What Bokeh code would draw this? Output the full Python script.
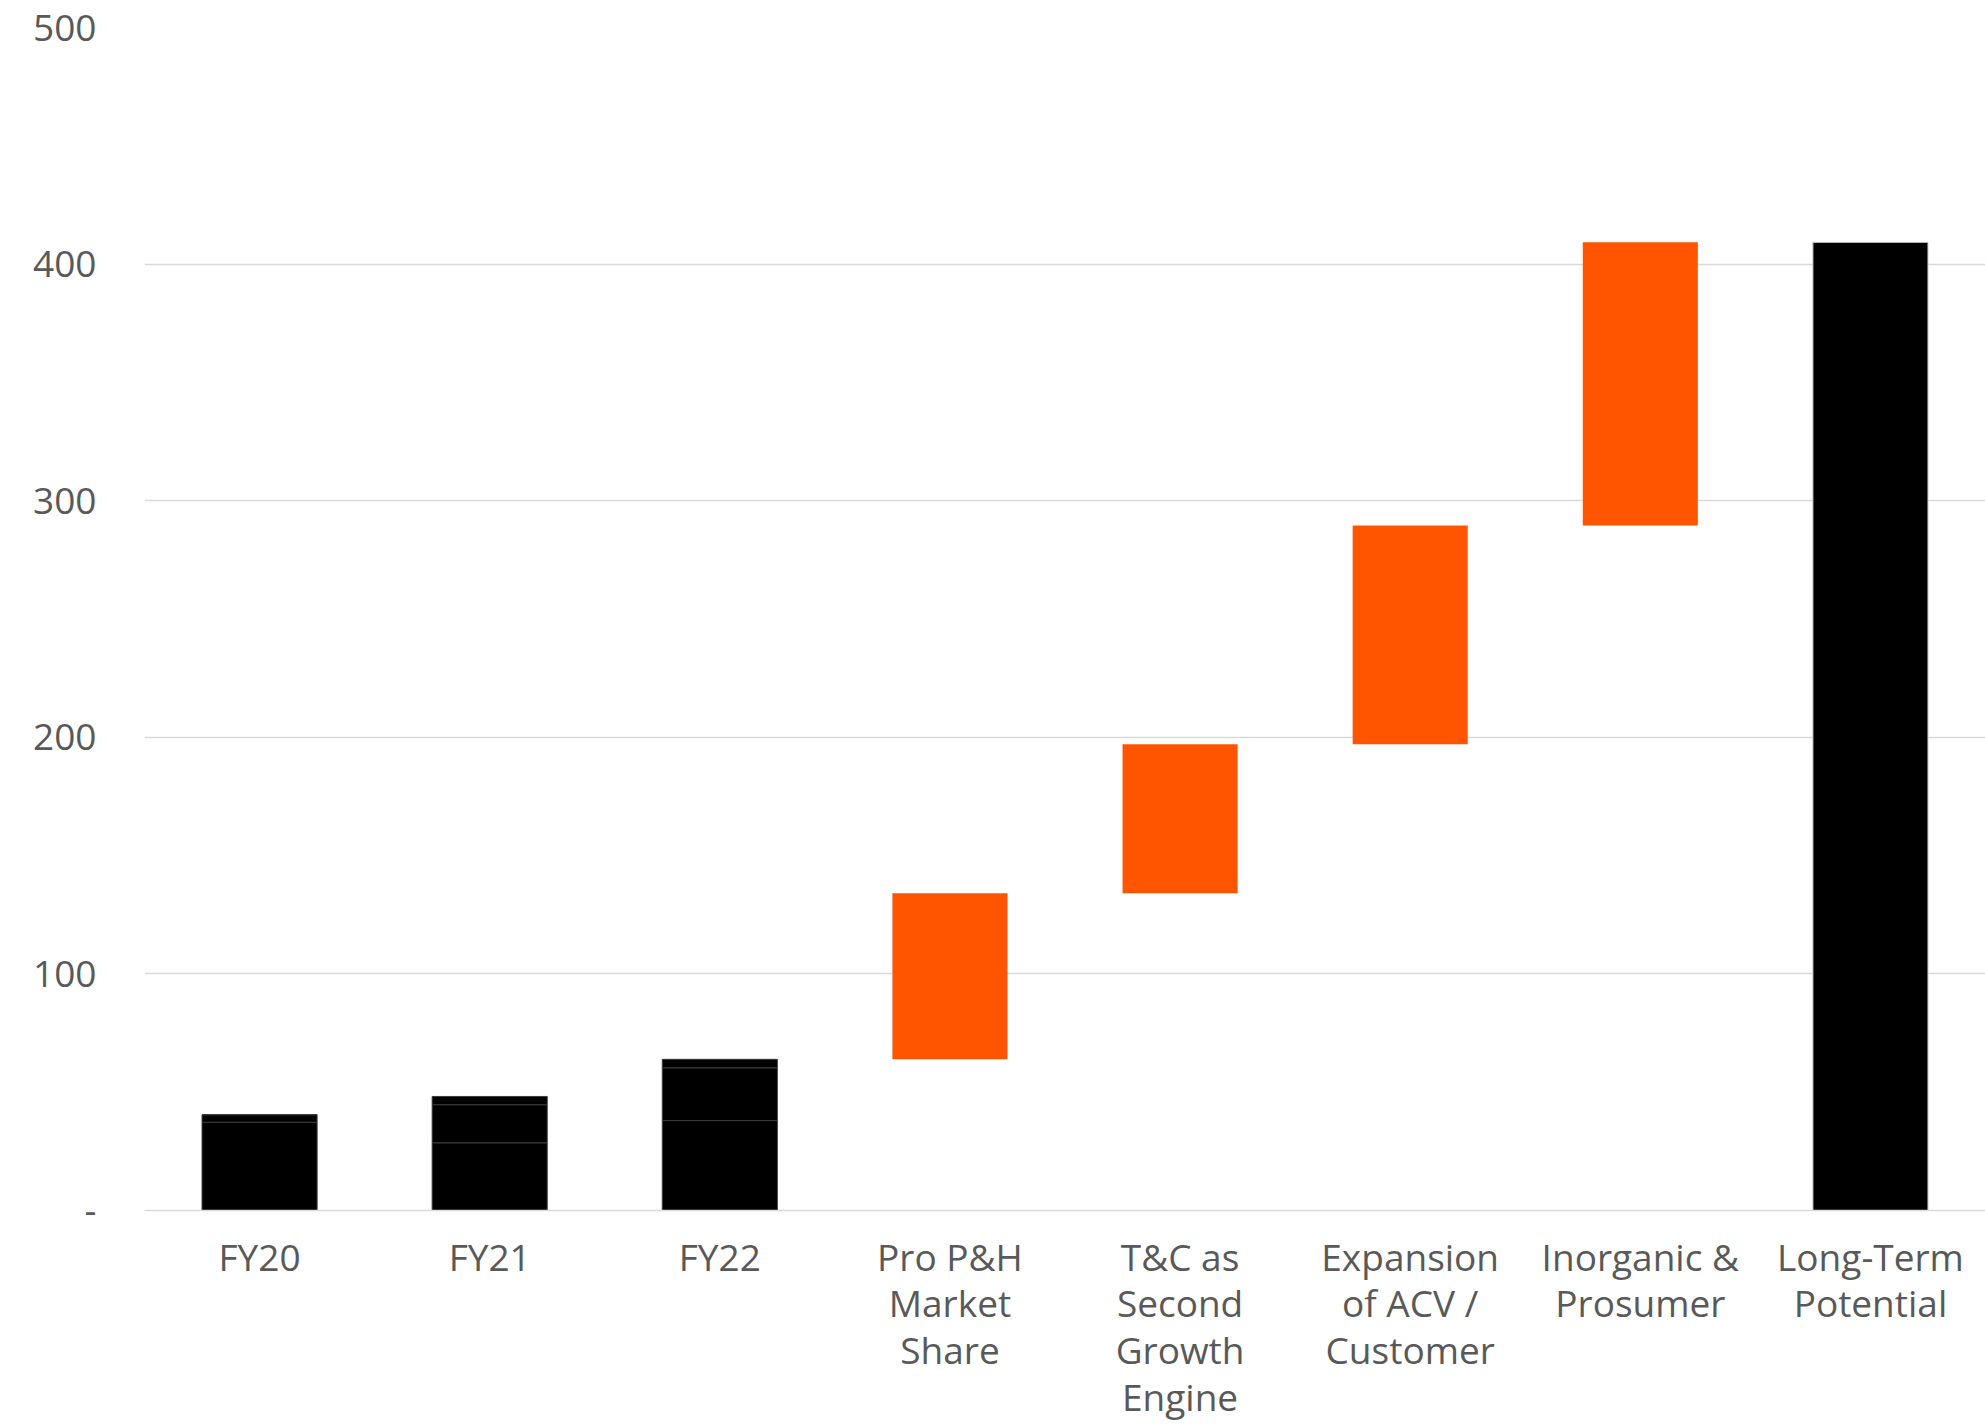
from bokeh.plotting import figure
from bokeh.models import Range1d, FactorRange, FixedTicker
from bokeh.embed import file_html
from bokeh.resources import INLINE

# ---- data ----
categories = [
    "FY20", "FY21", "FY22",
    "Pro P&H\nMarket\nShare",
    "T&C as\nSecond\nGrowth\nEngine",
    "Expansion\nof ACV /\nCustomer",
    "Inorganic &\nProsumer",
    "Long-Term\nPotential",
]
fy_categories = categories[:3]
seg_bottom = [37.3, 28.6, 38.0]
seg_middle = [3.2, 16.1, 22.3]
seg_top = [0.0, 3.5, 3.6]

step_categories = categories[3:7]
step_values = [70.2, 63.0, 92.4, 119.7]

total_category = categories[7]
y_ticks = [0, 100, 200, 300, 400, 500]
y_tick_labels = {0: "-", 100: "100", 200: "200", 300: "300", 400: "400", 500: "500"}

ORANGE = "#FF5500"
FONT = "Open Sans"

# ---- derived ----
b1 = [0.0] * 3
t1 = seg_bottom
t2 = [a + b for a, b in zip(t1, seg_middle)]
t3 = [a + b for a, b in zip(t2, seg_top)]

start = t3[-1]
step_bottoms, step_tops = [], []
cur = start
for v in step_values:
    step_bottoms.append(cur)
    cur += v
    step_tops.append(cur)
total_value = cur

p = figure(
    width=1985, height=1425,
    x_range=FactorRange(*categories, range_padding=0),
    y_range=Range1d(0, 500),
    output_backend="svg", toolbar_location=None,
    min_border_left=144, min_border_right=0, min_border_top=27, min_border_bottom=200,
)
p.outline_line_color = None
p.background_fill_color = "white"

W = 0.5
seg_line = "#3a3a3a"
p.vbar(x=fy_categories, bottom=b1, top=t1, width=W, fill_color="black", line_color=seg_line, line_width=1)
p.vbar(x=fy_categories, bottom=t1, top=t2, width=W, fill_color="black", line_color=seg_line, line_width=1)
p.vbar(x=fy_categories, bottom=t2, top=t3, width=W, fill_color="black", line_color=seg_line, line_width=1)

p.vbar(x=step_categories, bottom=step_bottoms, top=step_tops, width=W, fill_color=ORANGE, line_color=None)
p.vbar(x=[total_category], bottom=[0], top=[total_value], width=W, fill_color="black", line_color="#cccccc", line_width=1)

# grid
p.xgrid.grid_line_color = None
p.ygrid.grid_line_color = "#d9d9d9"
p.ygrid.grid_line_width = 1.5
p.ygrid.level = "underlay"

# y axis
p.yaxis.ticker = FixedTicker(ticks=y_ticks)
p.yaxis.major_label_overrides = y_tick_labels
p.yaxis.axis_line_color = None
p.yaxis.major_tick_line_color = None
p.yaxis.minor_tick_line_color = None
p.yaxis.major_label_standoff = 42
p.yaxis.major_label_text_font = FONT
p.yaxis.major_label_text_font_size = "37px"
p.yaxis.major_label_text_color = "#595959"

# x axis
p.xaxis.axis_line_color = "#d9d9d9"
p.xaxis.axis_line_width = 1.5
p.xaxis.major_tick_line_color = None
p.xaxis.minor_tick_line_color = None
p.xaxis.major_label_standoff = 14
p.xaxis.major_label_text_font = FONT
p.xaxis.major_label_text_font_size = "37px"
p.xaxis.major_label_text_color = "#595959"
p.xaxis.major_label_text_line_height = 0.92

open("out.html", "w").write(file_html(p, INLINE))
